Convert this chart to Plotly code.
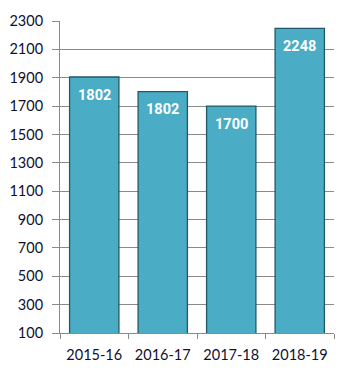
import plotly.graph_objects as go

categories = ["2015-16", "2016-17", "2017-18", "2018-19"]
values = [1905, 1802, 1700, 2248]
labels = ["1802", "1802", "1700", "2248"]
y_ticks = list(range(100, 2301, 200))

fig = go.Figure(go.Bar(
    x=categories, y=values,
    marker=dict(color="#4BACC6", line=dict(color="#215968", width=1.3)),
    hoverinfo="x+y",
))
for c, v, t in zip(categories, values, labels):
    fig.add_annotation(
        x=c, y=v, text=t, showarrow=False, yanchor="middle", yshift=-18,
        font=dict(family="Roboto", size=14.5, color="white", weight="bold"),
    )
fig.update_layout(
    width=353, height=373,
    margin=dict(l=52, r=27, t=13, b=48, autoexpand=False),
    paper_bgcolor="white", plot_bgcolor="white",
    bargap=0.28, showlegend=False,
    font=dict(family="Lato", size=14.5, color="#101030"),
)
fig.update_yaxes(
    range=[100, 2300], tickvals=y_ticks, ticktext=[str(v) for v in y_ticks],
    showgrid=True, gridcolor="#8a8a8a", gridwidth=1,
    showline=True, linecolor="#8a8a8a", linewidth=1,
    ticks="outside", ticklen=7, tickcolor="#8a8a8a", zeroline=False,
    ticklabelstandoff=6, automargin=False,
)
fig.update_xaxes(
    showline=True, linecolor="#8a8a8a", linewidth=1,
    ticks="outside", ticklen=5, tickcolor="#8a8a8a", tickson="boundaries",
    showgrid=False, automargin=False, ticklabelstandoff=9,
)
fig.write_html("out.html")
